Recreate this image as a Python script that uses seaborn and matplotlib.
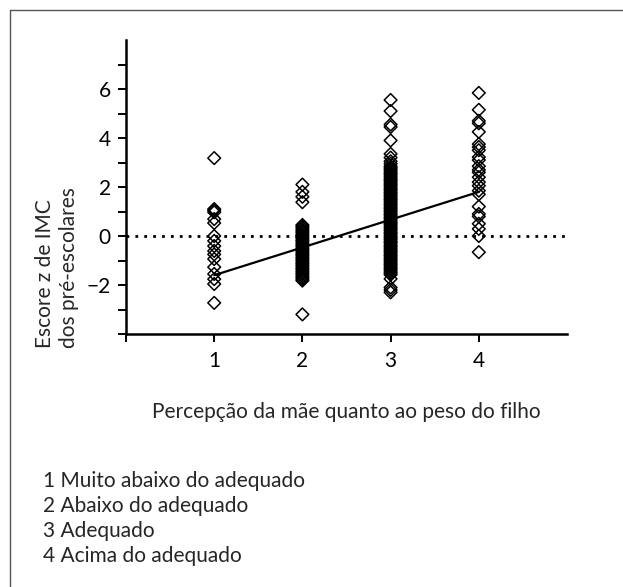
import pandas as pd
import matplotlib.pyplot as plt
import seaborn as sns
from matplotlib.lines import Line2D

# Escore z de IMC por grupo de percepcao materna
grupo_1 = [3.18, 1.1, 1.04, 0.97, 0.69, 0.53, 0.0, -0.2, -0.41, -0.61, -0.75,
           -0.94, -1.27, -1.55, -1.76, -1.96, -2.73]
grupo_2 = [2.1, 1.8, 1.6, 1.38,
           0.45, 0.39, 0.33, 0.26, 0.2, 0.14, 0.07, 0.01, -0.05, -0.12, -0.18,
           -0.24, -0.31, -0.37, -0.43, -0.5, -0.56, -0.62, -0.69, -0.75, -0.81,
           -0.88, -0.94, -1.0, -1.07, -1.13, -1.19, -1.26, -1.32, -1.38, -1.45,
           -1.51, -1.57, -1.64, -1.7, -1.76, -1.82,
           -3.2]
grupo_3 = [5.55, 5.1, 4.55, 4.45, 3.9, 3.35, 3.2, 3.05, 2.95,
           2.85, 2.79, 2.74, 2.68, 2.61, 2.55, 2.5, 2.44, 2.37, 2.31, 2.26, 2.2,
           2.13, 2.08, 2.02, 1.95, 1.9, 1.84, 1.77, 1.72, 1.66, 1.6, 1.53, 1.48,
           1.42, 1.35, 1.3, 1.24, 1.17, 1.12, 1.06, 1.0, 0.93, 0.88, 0.82, 0.75,
           0.7, 0.64, 0.57, 0.52, 0.46, 0.4, 0.33, 0.28, 0.22, 0.15, 0.1, 0.04,
           -0.03, -0.08, -0.14, -0.21, -0.26, -0.32, -0.39, -0.44, -0.5, -0.57,
           -0.62, -0.68, -0.75, -0.8, -0.86, -0.93, -0.98, -1.04, -1.11, -1.16,
           -1.22, -1.29, -1.34, -1.4, -1.47, -1.52, -1.58,
           -1.75, -2.1, -2.2, -2.3]
grupo_4 = [5.84, 5.15, 4.7, 4.6, 4.25, 3.75, 3.63, 3.5, 3.22, 3.1, 2.85, 2.7,
           2.6, 2.4, 2.2, 2.05, 1.85, 1.7, 1.2, 0.9, 0.8, 0.5, 0.29, 0.0, -0.66]

# reta de regressao
reta_x = [1, 4]
reta_y = [-1.6, 1.8]

categorias = ["Muito abaixo do adequado", "Abaixo do adequado",
              "Adequado", "Acima do adequado"]

df = pd.concat([
    pd.DataFrame({'percepcao': i + 1, 'imc': g})
    for i, g in enumerate([grupo_1, grupo_2, grupo_3, grupo_4])
])

sns.set_style('ticks')
plt.rcParams['font.family'] = ['Lato', 'DejaVu Sans']
fs = 15

fig = plt.figure(figsize=(6.23, 5.87), dpi=100)
ax = fig.add_axes([126/623, 1 - 334/587, 441/623, 294/587])

ax.axhline(0, color='black', lw=2, linestyle=(0, (1, 2.2)), zorder=1)
sns.lineplot(x=reta_x, y=reta_y, color='black', lw=1.6, ax=ax, zorder=3)
sns.scatterplot(data=df, x='percepcao', y='imc', marker='D', s=42,
                facecolors='none', edgecolor='black', linewidth=1.1, ax=ax,
                zorder=2)

ax.set_xlim(0, 5)
ax.set_ylim(-4, 8)
ax.set_xticks([1, 2, 3, 4])
ax.set_xticks([0], minor=True)
ax.set_yticks([-2, 0, 2, 4, 6])
ax.set_yticklabels(['\u22122', '0', '2', '4', '6'])
ax.set_yticks([-4, -3, -1, 1, 3, 5, 7], minor=True)
ax.tick_params(which='both', length=6, width=1.4, labelsize=fs, colors='black')
ax.tick_params(axis='y', pad=5)
ax.tick_params(axis='x', pad=6)
sns.despine(ax=ax)
for s in ['left', 'bottom']:
    ax.spines[s].set_linewidth(1.8)
    ax.spines[s].set_color('black')

ax.set_xlabel('Percepção da mãe quanto ao peso do filho', fontsize=fs)
ax.xaxis.set_label_coords(0.5, -0.232)
ax.set_ylabel('')
fig.text(57/623, 1 - 268/587, 'Escore z de IMC\ndos pré-escolares',
         rotation=90, ha='center', va='center', multialignment='left',
         fontsize=fs, linespacing=1.25)

for i, cat in enumerate(categorias):
    fig.text(43/623, 1 - (487 + 25*i)/587, f'{i + 1} {cat}', fontsize=fs,
             va='baseline', ha='left')

# moldura (so esquerda e topo)
fig.add_artist(Line2D([10/623, 10/623], [0, 1 - 10/587],
                      transform=fig.transFigure, color='#555555', lw=1))
fig.add_artist(Line2D([10/623, 1], [1 - 10/587, 1 - 10/587],
                      transform=fig.transFigure, color='#555555', lw=1))

fig.savefig('out.png', dpi=100)
